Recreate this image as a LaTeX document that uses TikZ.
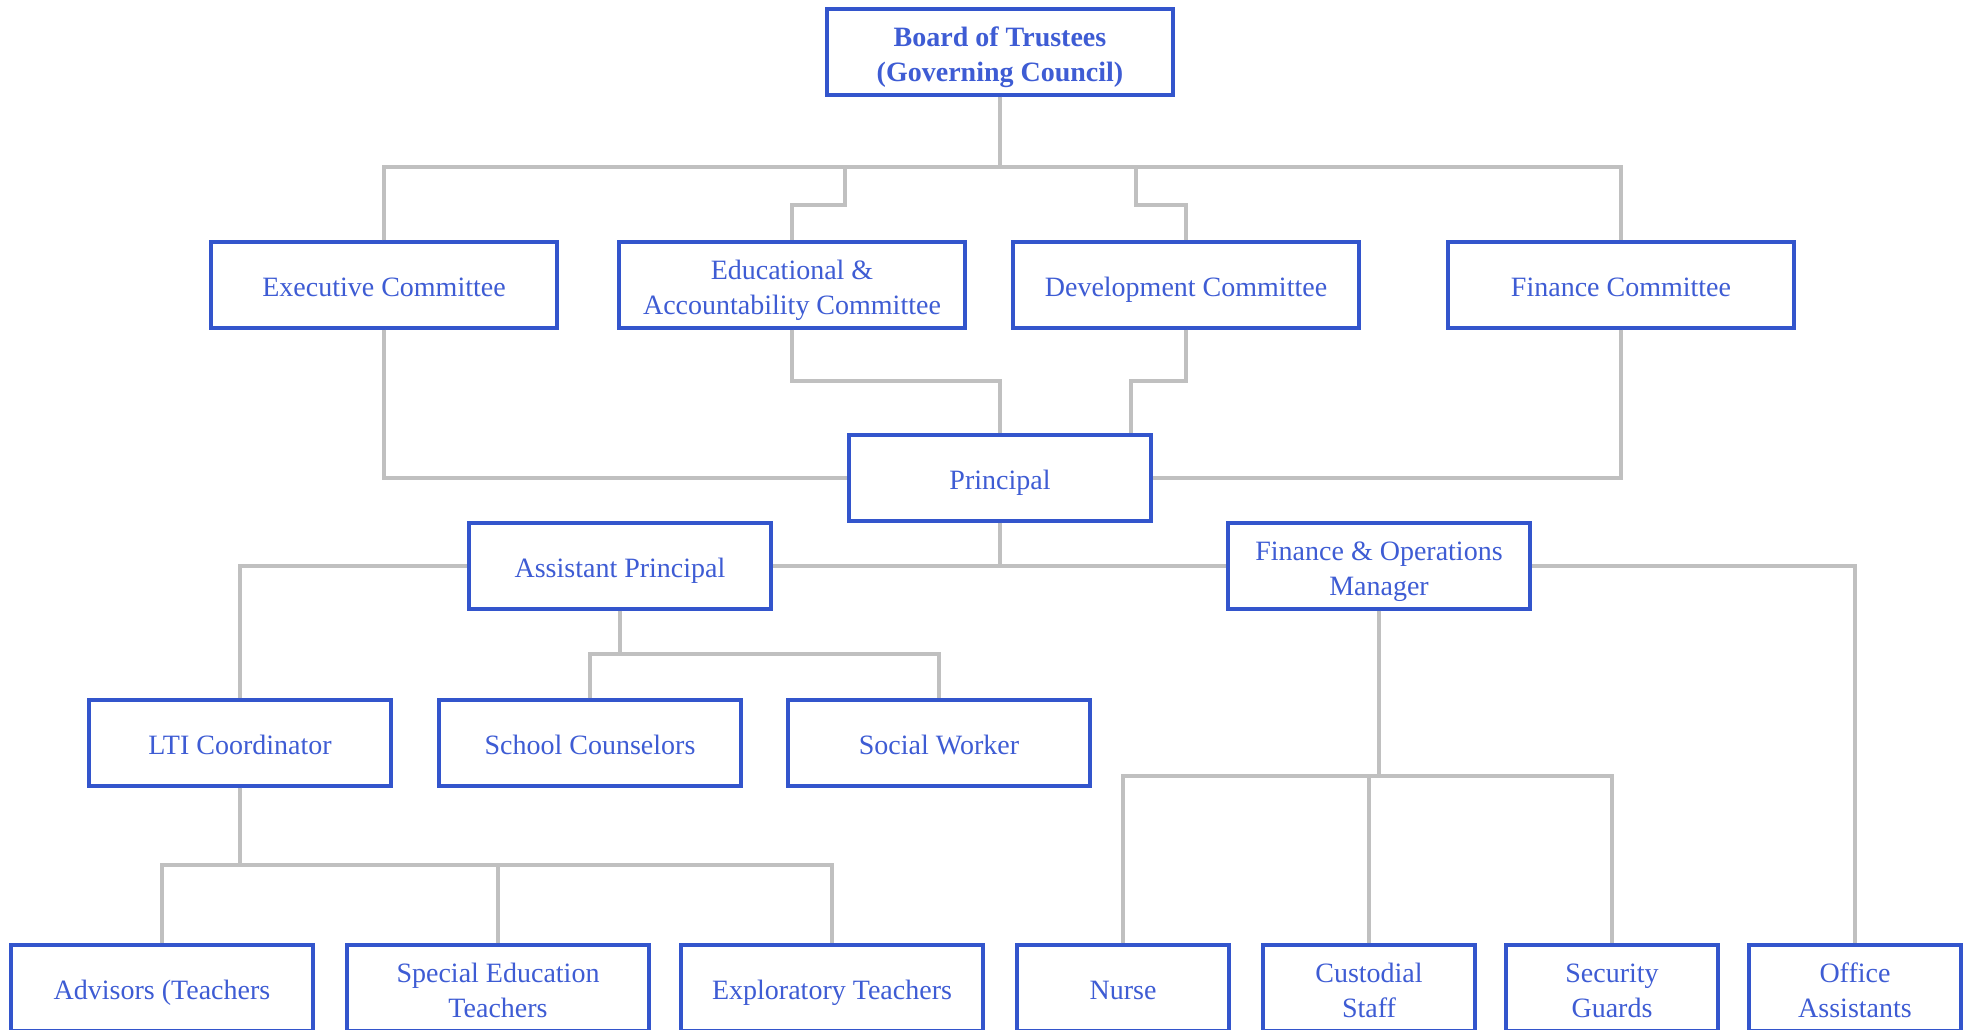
\documentclass[tikz,border=0pt]{standalone}
\usepackage{fontspec}
\setmainfont{Liberation Serif}
\definecolor{boxblue}{RGB}{51,85,204}
\definecolor{textblue}{RGB}{62,92,212}
\definecolor{linkgray}{RGB}{192,192,192}
\tikzset{
    % Box styles
    box/.style={rectangle, draw=boxblue, line width=3pt, fill=white, text=textblue,
                align=center, minimum height=64pt, inner sep=2pt,
                font=\fontsize{21}{26}\selectfont,
                text height=25.7pt, text depth=7.8pt},
    two lines/.style={text height=51.7pt},
    wide box/.style={box, minimum width=259pt},
    mid box/.style={box, minimum width=227pt},
    small box/.style={box, minimum width=159pt},
    % Connector style
    link/.style={draw=linkgray, line width=3pt},
}

\begin{document}
\begin{tikzpicture}[x=0.75pt, y=-0.75pt]
    \useasboundingbox (0,0) rectangle (1971,1029);

    % Board and committees
    \node[wide box, two lines, font=\fontsize{21}{26}\selectfont\bfseries] (board) at (1000,52) {Board of Trustees\\(Governing Council)};
    \node[wide box] (exec) at (384,285) {Executive Committee};
    \node[wide box, two lines] (edu) at (792,285) {Educational \&\\Accountability Committee};
    \node[wide box] (dev) at (1186,285) {Development Committee};
    \node[wide box] (fin) at (1621,285) {Finance Committee};

    % Management
    \node[mid box] (principal) at (1000,478) {Principal};
    \node[mid box] (ap) at (620,566) {Assistant Principal};
    \node[mid box, two lines] (fom) at (1379,566) {Finance \& Operations\\Manager};

    % Staff
    \node[mid box] (lti) at (240,743) {LTI Coordinator};
    \node[mid box] (sc) at (590,743) {School Counselors};
    \node[mid box] (sw) at (939,743) {Social Worker};
    \node[mid box] (adv) at (162,988) {Advisors (Teachers};
    \node[mid box, two lines] (sped) at (498,988) {Special Education\\Teachers};
    \node[mid box] (expl) at (832,988) {Exploratory Teachers};
    \node[small box] (nurse) at (1123,988) {Nurse};
    \node[small box, two lines] (cust) at (1369,988) {Custodial\\Staff};
    \node[small box, two lines] (sec) at (1612,988) {Security\\Guards};
    \node[small box, two lines] (office) at (1855,988) {Office\\Assistants};

    % Bus coordinates
    \coordinate (bus) at (1000,167);
    \coordinate (edujog) at (845,205);
    \coordinate (devjog) at (1136,205);
    \coordinate (lowbus) at (0,381);
    \coordinate (devlow) at (1131,381);
    \coordinate (apbus) at (0,654);
    \coordinate (fombus) at (0,776);
    \coordinate (ltibus) at (0,865);

    % Board to committees
    \draw[link] (board.south) -- (bus);
    \draw[link] (exec.north) |- (fin.north |- bus) -- (fin.north);
    \draw[link] (edujog |- bus) -- (edujog) -| (edu.north);
    \draw[link] (devjog |- bus) -- (devjog) -| (dev.north);

    % Committees to principal
    \draw[link] (exec.south) |- (principal.west);
    \draw[link] (fin.south) |- (principal.east);
    \draw[link] (edu.south) |- (principal.north |- lowbus) -- (principal.north);
    \draw[link] (dev.south) |- (devlow) -- (devlow |- principal.north);

    % Principal to assistants
    \draw[link] (principal.south) -- (principal.south |- ap.east);
    \draw[link] (ap.east) -- (fom.west);
    \draw[link] (ap.west) -| (lti.north);
    \draw[link] (fom.east) -| (office.north);

    % Assistant principal staff
    \draw[link] (ap.south) -- (ap.south |- apbus);
    \draw[link] (sc.north) |- (sw.north |- apbus) -- (sw.north);

    % LTI staff
    \draw[link] (lti.south) -- (lti.south |- ltibus);
    \draw[link] (adv.north) |- (expl.north |- ltibus) -- (expl.north);
    \draw[link] (sped.north) -- (sped.north |- ltibus);

    % Operations staff
    \draw[link] (fom.south) -- (fom.south |- fombus);
    \draw[link] (nurse.north) |- (sec.north |- fombus) -- (sec.north);
    \draw[link] (cust.north) -- (cust.north |- fombus);
\end{tikzpicture}
\end{document}
